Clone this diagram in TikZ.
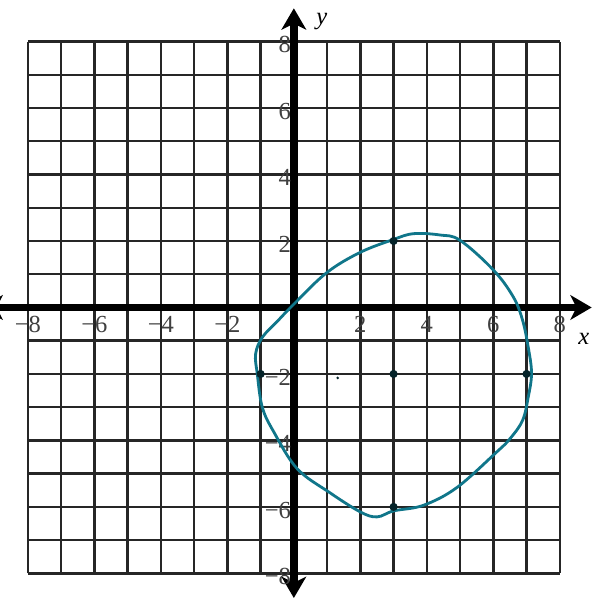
\documentclass[tikz,border=0pt]{standalone}
\usepackage{fontspec}
\setmainfont{Liberation Serif}
\usepackage{tikz}
\usetikzlibrary{arrows.meta}
\definecolor{circteal}{RGB}{16,118,138}

\begin{document}
\begin{tikzpicture}[
				gridline/.style={draw=black!85, line width=2.1pt},
				axisline/.style={line width=6.5pt,
						{Stealth[length=0.64cm,width=0.74cm,inset=0.18cm]}-{Stealth[length=0.64cm,width=0.74cm,inset=0.18cm]}},
				ticklab/.style={font=\fontsize{21}{22}\selectfont, text=black!75, inner sep=0pt},
				axislab/.style={font=\fontsize{21}{22}\selectfont\itshape, inner sep=0pt},
				dotpt/.style={circle, fill=black!70!circteal, inner sep=0pt, minimum size=7pt},
				curve/.style={draw=circteal, line width=2.4pt}
			]

			\useasboundingbox (-8.84,-8.80) rectangle (9.05,9.25);
			\clip (-8.84,-8.80) rectangle (9.05,9.25);
			\fill[white] (-8.84,-8.80) rectangle (9.05,9.25);

			\draw[gridline] (-8,-8) grid (8,8);
			\draw[axisline] (-9.4,0) -- (8.96,0);
			\draw[axisline] (0,-8.74) -- (0,9.0);

			\foreach \v/\t in {-8/−8,-6/−6,-4/−4,-2/−2,2/2,4/4,6/6,8/8}{
					\node[ticklab] (xlab\v) at (\v,-0.5) {\t};
					\node[ticklab, anchor=east] (ylab\v) at (-0.08,{\v-0.1}) {\t};
				}
			\node[axislab] (xname) at (8.72,-0.95) {x};
			\node[axislab] (yname) at (0.84,8.6) {y};

			\draw[curve] plot[smooth cycle, tension=0.6] coordinates {
					(-1.1,-2.0) (-1.15,-1.4) (-0.95,-0.9) (-0.5,-0.42) (0.0,0.1)
					(0.98,1.04) (1.98,1.65) (2.98,2.04) (3.6,2.22) (4.4,2.18)
					(5.0,2.02) (6.0,1.13) (6.6,0.32) (6.88,-0.38) (7.05,-1.19)
					(7.15,-1.98) (7.05,-2.7) (6.88,-3.4) (6.5,-3.95) (6.1,-4.35)
					(4.9,-5.42) (3.9,-5.95) (3.0,-6.12) (2.5,-6.3) (2.0,-6.15)
					(1.08,-5.57) (0.1,-4.85) (-0.6,-3.75) (-0.95,-3.0)};

			\node[dotpt] (top) at (3,2) {};
			\node[dotpt] (left) at (-1,-2) {};
			\node[dotpt] (right) at (7,-2) {};
			\node[dotpt] (bottom) at (3,-6) {};
			\node[dotpt] (centre) at (3,-2) {};
			\node[circle, fill=black!70!circteal, inner sep=0pt, minimum size=2.5pt] (speck) at (1.32,-2.12) {};
		\end{tikzpicture}
\end{document}
